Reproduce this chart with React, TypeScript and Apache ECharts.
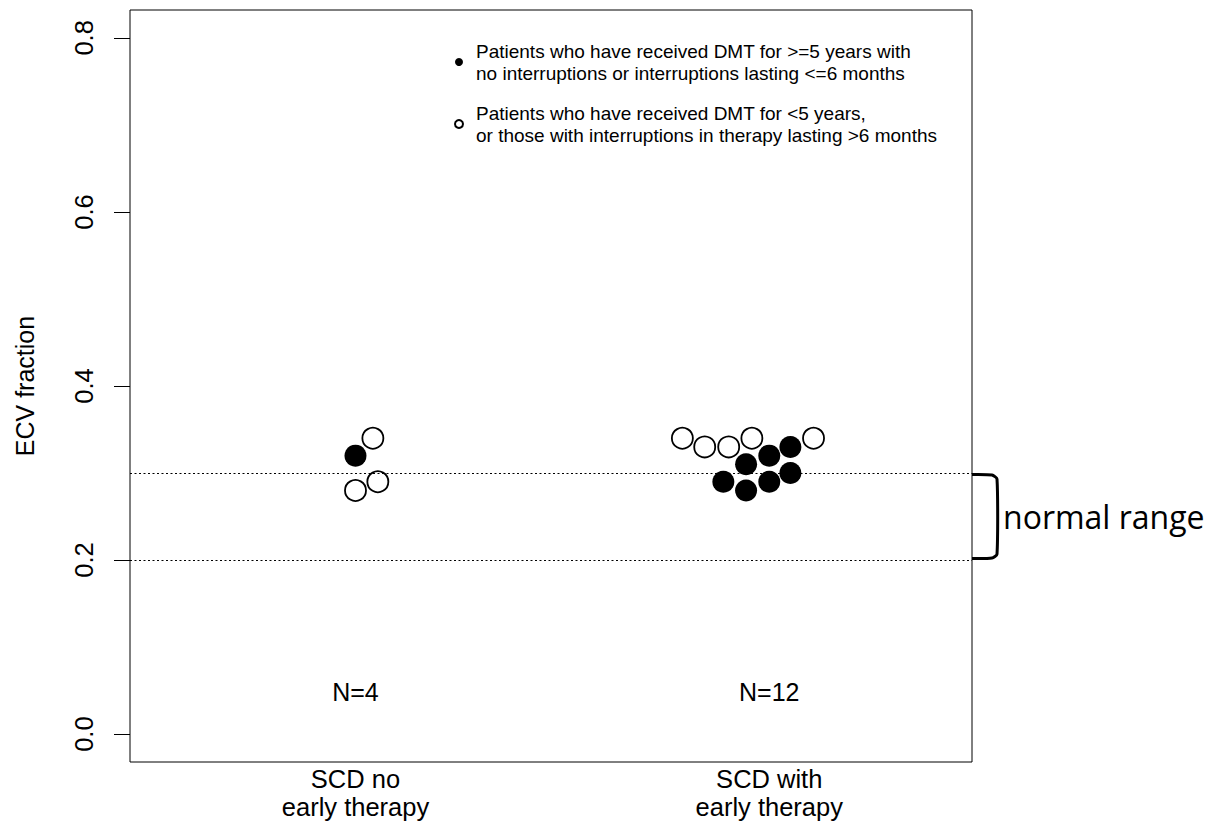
import React, { useEffect, useRef } from "react";
import * as echarts from "echarts";

// ---- data ----
const categories = ["SCD no\nearly therapy", "SCD with\nearly therapy"];
const groupCounts = [4, 12];
const countLabelY = 0.048;

// filled: DMT >= 5 years, no / short interruptions
const filledGroup = [1, 2, 2, 2, 2, 2, 2, 2];
const filledOffset = [0, -0.056, 0, 0.051, -0.111, -0.056, 0, 0.051];
const filledEcv = [0.32, 0.31, 0.32, 0.33, 0.29, 0.28, 0.29, 0.3];

// open: DMT < 5 years or interruptions > 6 months
const openGroup = [1, 1, 1, 2, 2, 2, 2, 2];
const openOffset = [0.042, 0.054, 0, -0.21, -0.156, -0.098, -0.042, 0.107];
const openEcv = [0.34, 0.29, 0.28, 0.34, 0.33, 0.33, 0.34, 0.34];

const yTicks = [0, 0.2, 0.4, 0.6, 0.8];
const normalRange = [0.2, 0.3];

const filledName =
  "Patients who have received DMT for >=5 years with\nno interruptions or interruptions lasting <=6 months";
const openName =
  "Patients who have received DMT for <5 years,\nor those with interruptions in therapy lasting >6 months";

const FONT = "'Liberation Sans', Arial, sans-serif";

export default function App() {
  const ref = useRef<HTMLDivElement>(null);

  useEffect(() => {
    if (!ref.current) return;
    const chart = echarts.init(ref.current, undefined, { renderer: "svg" });

    const filledData = filledGroup.map((g, i) => [g + filledOffset[i], filledEcv[i]]);
    const openData = openGroup.map((g, i) => [g + openOffset[i], openEcv[i]]);
    const countData = groupCounts.map((n, i) => [i + 1, countLabelY]);

    const option: any = {
      animation: false,
      backgroundColor: "#fff",
      textStyle: { fontFamily: FONT },
      grid: {
        left: 130,
        right: 244,
        top: 10,
        bottom: 63,
        show: true,
        borderColor: "#000",
        borderWidth: 1,
        backgroundColor: "transparent",
      },
      legend: {
        orient: "vertical",
        left: 454,
        top: 40,
        itemWidth: 24,
        itemHeight: 8,
        itemGap: 18,
        padding: 0,
        selectedMode: false,
        data: [filledName, openName],
        textStyle: { fontFamily: FONT, fontSize: 19, lineHeight: 22, color: "#000" },
      },
      xAxis: {
        type: "value",
        min: 0.455,
        max: 2.49,
        axisLine: { show: false },
        axisTick: { show: false },
        splitLine: { show: false },
        axisLabel: {
          customValues: [1, 2],
          formatter: (v: number) => categories[Math.round(v) - 1] ?? "",
          fontFamily: FONT,
          fontSize: 25.5,
          lineHeight: 28,
          color: "#000",
          margin: 3,
        },
      },
      yAxis: {
        type: "value",
        min: -0.032,
        max: 0.832,
        name: "ECV fraction",
        nameLocation: "middle",
        nameRotate: 90,
        nameGap: 93,
        nameTextStyle: { fontFamily: FONT, fontSize: 25, color: "#000" },
        axisLine: { show: false },
        splitLine: { show: false },
        axisTick: {
          show: true,
          customValues: yTicks,
          length: 16,
          lineStyle: { color: "#000", width: 1 },
        },
        axisLabel: {
          customValues: yTicks,
          rotate: 90,
          formatter: (v: number) => v.toFixed(1),
          fontFamily: FONT,
          fontSize: 25.5,
          color: "#000",
          margin: 33,
        },
      },
      series: [
        {
          name: openName,
          type: "scatter",
          symbol: "circle",
          symbolSize: 21,
          data: openData,
          itemStyle: { color: "#fff", borderColor: "#000", borderWidth: 1.8, opacity: 1 },
          markLine: {
            silent: true,
            symbol: "none",
            label: { show: false },
            lineStyle: { color: "#000", type: [2, 2.5], width: 1.2, opacity: 1 },
            data: normalRange.map((v) => ({ yAxis: v })),
          },
          z: 2,
        },
        {
          name: filledName,
          type: "scatter",
          symbol: "circle",
          symbolSize: 22,
          data: filledData,
          itemStyle: { color: "#000", opacity: 1 },
          z: 3,
        },
        {
          name: "counts",
          type: "scatter",
          symbolSize: 0,
          silent: true,
          data: countData,
          itemStyle: { opacity: 1, color: "#000" },
          label: {
            show: true,
            position: "inside",
            formatter: (p: any) => "N=" + groupCounts[p.dataIndex],
            fontFamily: FONT,
            fontSize: 25,
            color: "#000",
            opacity: 1,
          },
        },
      ],
    };

    chart.setOption(option);

    const yTop = chart.convertToPixel({ yAxisIndex: 0 }, normalRange[1]) as number;
    const yBot = chart.convertToPixel({ yAxisIndex: 0 }, normalRange[0]) as number;
    const xEdge = chart.convertToPixel({ xAxisIndex: 0 }, 2.49) as number;
    const bx = xEdge + 25;

    chart.setOption({
      graphic: [
        {
          type: "polyline",
          shape: {
            points: [
              [xEdge, yTop + 1.5],
              [bx - 5, yTop + 2],
              [bx, yTop + 6],
              [bx, yBot - 6],
              [bx - 5, yBot - 2],
              [xEdge, yBot - 1.5],
            ],
            smooth: 0.2,
          },
          style: { stroke: "#000", lineWidth: 3, fill: "none", lineJoin: "round" },
        },
        {
          type: "text",
          x: bx + 6,
          y: (yTop + yBot) / 2,
          style: {
            text: "normal range",
            fontFamily: "'Open Sans', 'Noto Sans', sans-serif",
            fontSize: 32,
            fill: "#000",
            verticalAlign: "middle",
            align: "left",
          },
        },
      ],
    });

    return () => chart.dispose();
  }, []);

  return (
    <div
      ref={ref}
      style={{ position: "absolute", left: 0, top: 0, width: 1216, height: 825 }}
    />
  );
}
